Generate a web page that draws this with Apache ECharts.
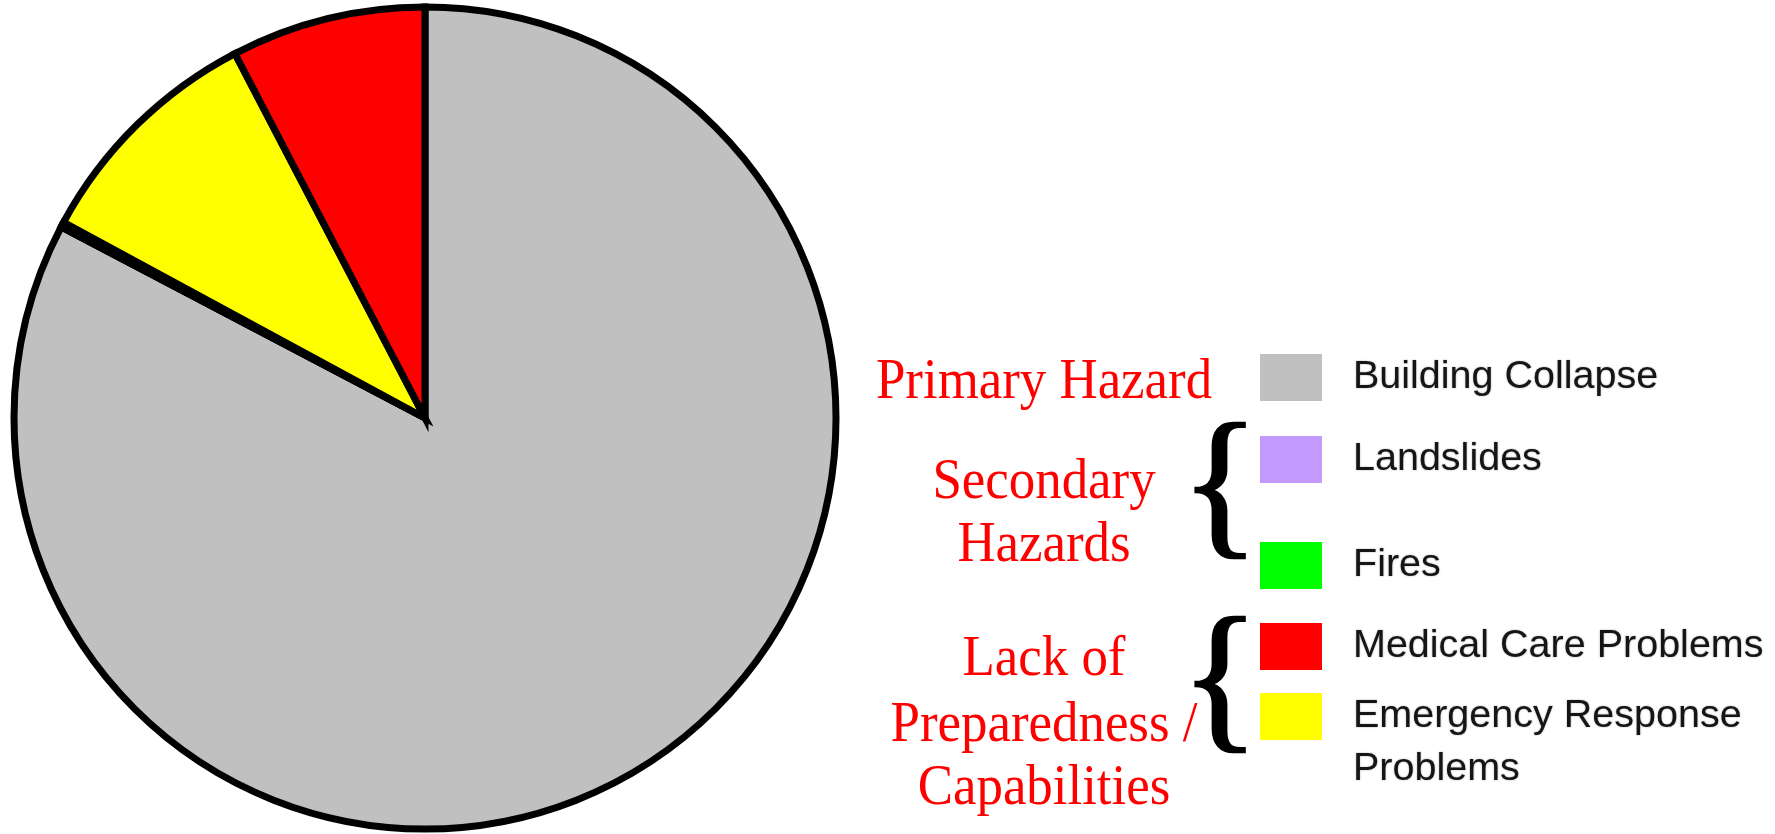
<!DOCTYPE html>
<html>
<head>
<meta charset="utf-8">
<script src="https://cdn.jsdelivr.net/npm/echarts@6/dist/echarts.min.js"></script>
<style>html,body{margin:0;padding:0;background:#fff;}#c{width:1775px;height:834px;}</style>
</head>
<body>
<div id="c"></div>
<script>
const categories = ['Building Collapse', 'Landslides', 'Fires', 'Emergency Response Problems', 'Medical Care Problems'];
const values = [82.7, 0, 0.2, 9.45, 7.65];
const colors = ['#C0C0C0', '#C49AFF', '#00FF00', '#FFFF00', '#FF0000'];
const legendOrder = ['Building Collapse', 'Landslides', 'Fires', 'Medical Care Problems', 'Emergency Response Problems'];
const legendLabels = ['Building Collapse', 'Landslides', 'Fires', 'Medical Care Problems', 'Emergency Response'];
const legendTops = [349, 431, 537, 618, 688];
const extraLabel = {text: 'Problems', y: 769};
const groupLines = [
  {text: 'Primary Hazard', y: 383},
  {text: 'Secondary', y: 483},
  {text: 'Hazards', y: 546},
  {text: 'Lack of', y: 660},
  {text: 'Preparedness /', y: 726},
  {text: 'Capabilities', y: 789}
];
const braces = [{y: 493}, {y: 687}];

const chart = echarts.init(document.getElementById('c'));

const labelStyle = {
  fontFamily: 'Liberation Sans, Arial, sans-serif',
  fontSize: 39.5,
  color: '#151515',
  textShadowColor: 'rgba(0,0,0,0.35)',
  textShadowBlur: 2
};

const legends = legendOrder.map((name, i) => ({
  data: [{name: name, icon: 'rect'}],
  left: 1255,
  top: legendTops[i],
  orient: 'vertical',
  itemWidth: 62,
  itemHeight: 47,
  selectedMode: false,
  itemStyle: {borderWidth: 0},
  formatter: () => legendLabels[i],
  textStyle: Object.assign({padding: [0, 0, 0, 26]}, labelStyle)
}));

const graphics = groupLines.map(g => ({
  type: 'text',
  x: 1044,
  y: g.y,
  scaleX: 0.944,
  style: {
    text: g.text,
    fill: '#FF0000',
    font: '56px "Liberation Serif", "Times New Roman", serif',
    textAlign: 'center',
    textVerticalAlign: 'middle'
  }
})).concat(braces.map(b => ({
  type: 'text',
  x: 1220,
  y: b.y,
  style: {
    text: '{',
    fill: '#000',
    stroke: '#000',
    lineWidth: 2.5,
    font: '164px "Liberation Serif", "Times New Roman", serif',
    textAlign: 'center',
    textVerticalAlign: 'middle'
  }
}))).concat([{
  type: 'text',
  x: 1353,
  y: extraLabel.y,
  style: {
    text: extraLabel.text,
    fill: labelStyle.color,
    font: '39.5px "Liberation Sans", Arial, sans-serif',
    textAlign: 'left',
    textVerticalAlign: 'middle',
    textShadowColor: labelStyle.textShadowColor,
    textShadowBlur: labelStyle.textShadowBlur
  }
}]);

chart.setOption({
  animation: false,
  color: colors,
  legend: legends,
  graphic: graphics,
  series: [{
    type: 'pie',
    center: [425, 418],
    radius: 411,
    startAngle: 90,
    clockwise: true,
    label: {show: false},
    labelLine: {show: false},
    emphasis: {disabled: true},
    itemStyle: {borderColor: '#000', borderWidth: 7, borderJoin: 'miter'},
    data: categories.map((c, i) => ({name: c, value: values[i], itemStyle: {color: colors[i]}}))
  }]
});
</script>
</body>
</html>
